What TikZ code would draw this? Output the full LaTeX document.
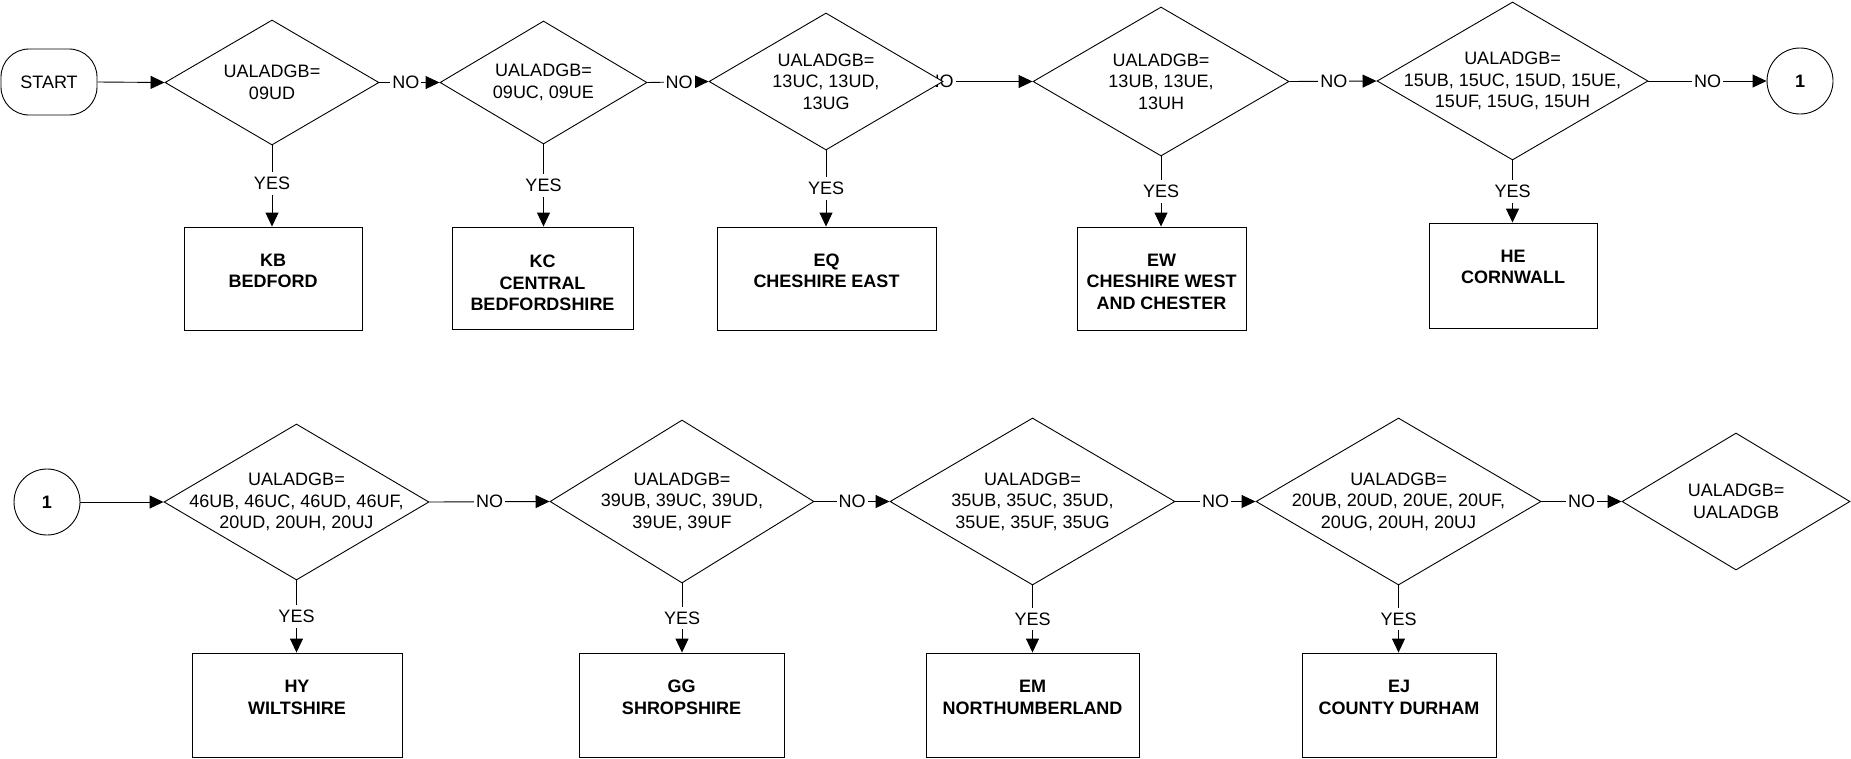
\documentclass[tikz,border=0pt]{standalone}
\usepackage{fontspec}
\setmainfont{Liberation Sans}
\usetikzlibrary{arrows.meta,shapes.geometric,backgrounds}
\begin{document}
\begin{tikzpicture}[x=1pt,y=-1pt,
  every node/.style={font=\fontsize{18}{21.5}\selectfont},
  dia/.style={draw, shape=diamond, fill=white, inner sep=0pt, line width=0.9pt},
  txt/.style={align=center, inner sep=0pt},
  res/.style={draw, fill=white, inner sep=0pt, line width=0.9pt},
  rtxt/.style={align=center, inner sep=0pt, font=\fontsize{18}{21.5}\selectfont\bfseries},
  conn/.style={line width=0.9pt, -{Triangle[length=14pt,width=13pt]}},
  lab/.style={fill=white, inner xsep=2pt, inner ysep=5pt},
]
\useasboundingbox (0,0) rectangle (1851,758);

% ---------- row 1 ----------
\node[draw, fill=white, rounded corners=28pt, minimum width=96pt, minimum height=66pt, inner sep=0pt, line width=0.9pt] (start) at (49,82) {START};

\node[dia, minimum width=214pt, minimum height=125pt] (d1) at (272,82.5) {};
\node[txt] (d1t) at (d1) {UALADGB=\\09UD};
\node[dia, minimum width=207pt, minimum height=123pt] (d2) at (543.5,82.5) {};
\node[txt] (d2t) at (d2) {UALADGB=\\09UC, 09UE};
\node[dia, minimum width=234pt, minimum height=137pt] (d3) at (826,81.5) {};
\node[txt] (d3t) at (d3) {UALADGB=\\13UC, 13UD,\\13UG};
\node[dia, minimum width=256pt, minimum height=149pt] (d4) at (1161,81.5) {};
\node[txt] (d4t) at (d4) {UALADGB=\\13UB, 13UE,\\13UH};
\node[dia, minimum width=271pt, minimum height=158pt] (d5) at (1512.5,81) {};
\node[txt] (d5t) at (d5) {UALADGB=\\15UB, 15UC, 15UD, 15UE,\\15UF, 15UG, 15UH};

\node[draw, circle, fill=white, minimum size=66pt, inner sep=0pt, line width=0.9pt, font=\fontsize{18}{21.5}\selectfont\bfseries] (c1) at (1800,81) {1};

\node[res, minimum width=178pt, minimum height=103pt] (b1) at (273,278.5) {};
\node[rtxt] (b1t) at (273,271) {KB\\BEDFORD};
\node[res, minimum width=181pt, minimum height=102pt] (b2) at (542.5,278) {};
\node[rtxt] (b2t) at (542.5,283) {KC\\CENTRAL\\BEDFORDSHIRE};
\node[res, minimum width=219pt, minimum height=103pt] (b3) at (826.5,278.5) {};
\node[rtxt] (b3t) at (826.5,271) {EQ\\CHESHIRE EAST};
\node[res, minimum width=169pt, minimum height=103pt] (b4) at (1161.5,278.5) {};
\node[rtxt] (b4t) at (1161.5,281.5) {EW\\CHESHIRE WEST\\AND CHESTER};
\node[res, minimum width=168pt, minimum height=105pt] (b5) at (1513,275.5) {};
\node[rtxt] (b5t) at (1513,267) {HE\\CORNWALL};

% ---------- row 2 ----------
\node[draw, circle, fill=white, minimum size=66pt, inner sep=0pt, line width=0.9pt, font=\fontsize{18}{21.5}\selectfont\bfseries] (c2) at (47,502) {1};

\node[dia, minimum width=265pt, minimum height=156pt] (d6) at (296.5,502) {};
\node[txt] (d6t) at (d6) {UALADGB=\\46UB, 46UC, 46UD, 46UF,\\20UD, 20UH, 20UJ};
\node[dia, minimum width=264pt, minimum height=163pt] (d7) at (682,501.5) {};
\node[txt] (d7t) at (d7) {UALADGB=\\39UB, 39UC, 39UD,\\39UE, 39UF};
\node[dia, minimum width=285pt, minimum height=167pt] (d8) at (1032.5,501.5) {};
\node[txt] (d8t) at (d8) {UALADGB=\\35UB, 35UC, 35UD,\\35UE, 35UF, 35UG};
\node[dia, minimum width=285pt, minimum height=167pt] (d9) at (1398.5,501.5) {};
\node[txt] (d9t) at (d9) {UALADGB=\\20UB, 20UD, 20UE, 20UF,\\20UG, 20UH, 20UJ};
\node[dia, minimum width=228pt, minimum height=137pt] (d10) at (1736,501.5) {};
\node[txt] (d10t) at (d10) {UALADGB=\\UALADGB};

\node[res, minimum width=210pt, minimum height=104pt] (b6) at (297,705) {};
\node[rtxt] (b6t) at (297,697.5) {HY\\WILTSHIRE};
\node[res, minimum width=205pt, minimum height=104pt] (b7) at (681.5,705) {};
\node[rtxt] (b7t) at (681.5,697.5) {GG\\SHROPSHIRE};
\node[res, minimum width=213pt, minimum height=104pt] (b8) at (1032.5,705) {};
\node[rtxt] (b8t) at (1032.5,697.5) {EM\\NORTHUMBERLAND};
\node[res, minimum width=194pt, minimum height=104pt] (b9) at (1399,705) {};
\node[rtxt] (b9t) at (1399,697.5) {EJ\\COUNTY DURHAM};

% ---------- connectors ----------
\begin{pgfonlayer}{background}
\draw[conn] (start.east) -- (d1.west);
\draw[conn] (d1.east) -- node[lab, pos=0.44] (n1) {NO} (d2.west);
\draw[conn] (d2.east) -- node[lab, pos=0.52] (n2) {NO} (d3.west);
\draw[conn] (d3.east) -- (d4.west);
\node[lab] (n3) at (940,81.5) {NO};
\draw[conn] (d4.east) -- node[lab, pos=0.51] (n4) {NO} (d5.west);
\draw[conn] (d5.east) -- node[lab, pos=0.5] (n5) {NO} (c1.west);

\draw[conn] (c2.east) -- (d6.west);
\draw[conn] (d6.east) -- node[lab] (n6) {NO} (d7.west);
\draw[conn] (d7.east) -- node[lab] (n7) {NO} (d8.west);
\draw[conn] (d8.east) -- node[lab] (n8) {NO} (d9.west);
\draw[conn] (d9.east) -- node[lab] (n9) {NO} (d10.west);

\draw[conn] (d1.south) -- node[lab, pos=0.47] (y1) {YES} (d1.south |- b1.north);
\draw[conn] (d2.south) -- node[lab] (y2) {YES} (d2.south |- b2.north);
\draw[conn] (d3.south) -- node[lab] (y3) {YES} (d3.south |- b3.north);
\draw[conn] (d4.south) -- node[lab] (y4) {YES} (d4.south |- b4.north);
\draw[conn] (d5.south) -- node[lab] (y5) {YES} (d5.south |- b5.north);
\draw[conn] (d6.south) -- node[lab] (y6) {YES} (d6.south |- b6.north);
\draw[conn] (d7.south) -- node[lab] (y7) {YES} (d7.south |- b7.north);
\draw[conn] (d8.south) -- node[lab] (y8) {YES} (d8.south |- b8.north);
\draw[conn] (d9.south) -- node[lab] (y9) {YES} (d9.south |- b9.north);
\end{pgfonlayer}
\end{tikzpicture}
\end{document}
